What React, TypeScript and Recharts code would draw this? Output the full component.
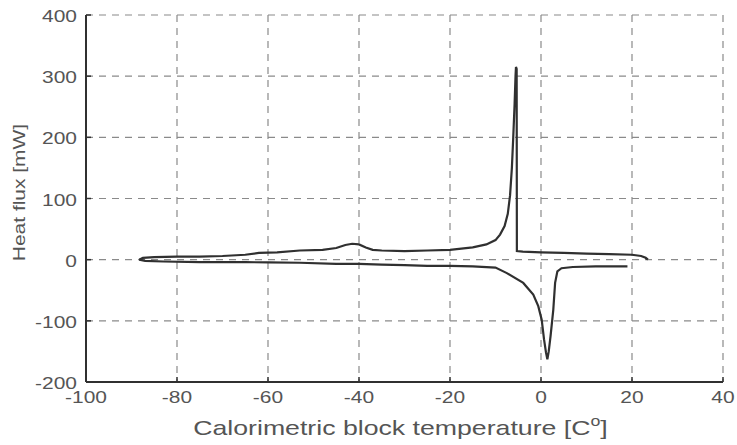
import React from 'react';
import { LineChart, Line, XAxis, YAxis, CartesianGrid } from 'recharts';

// upper trace (cooling run, freezing peak)
const coolTemp = [-88.3, -87.5, -85, -80, -75, -70, -65, -62, -58, -53, -48, -45, -43, -41.5, -40, -38.5, -37, -35, -30, -25, -20, -15, -12, -10, -9, -8, -7.3, -6.8, -6.4, -6.1, -5.8, -5.6, -5.5, -5.35, -5.3, -4, 0, 5, 10, 15, 20, 22, 23, 23.5];
const coolFlux = [0, 3, 4, 5, 5, 6, 8, 11, 12, 15, 16, 19, 24, 26, 25, 20, 16, 15, 14, 15, 16, 20, 25, 32, 41, 55, 75, 105, 150, 200, 255, 300, 315, 312, 14, 13, 12, 11, 10, 9, 8, 6, 3, 0];

// lower trace (heating run, melting peak)
const heatTemp = [-88.3, -87, -83, -75, -65, -60, -53, -45, -40, -35, -30, -25, -20, -15, -10, -7.5, -3.9, -1.7, -0.6, 0.15, 0.66, 1.1, 1.4, 1.7, 2.1, 2.7, 3.1, 3.6, 4.5, 7, 12, 19];
const heatFlux = [0, -2, -3, -4, -4, -4.5, -5, -7, -7, -8, -9, -10, -10, -11, -13, -22, -38, -57, -76, -98, -130, -152, -163, -150, -125, -82, -38, -19, -14, -12, -11, -11];

const tempTicks = [-100, -80, -60, -40, -20, 0, 20, 40];
const fluxTicks = [-200, -100, 0, 100, 200, 300, 400];

const coolData = coolTemp.map((t, i) => ({ t, q: coolFlux[i] }));
const heatData = heatTemp.map((t, i) => ({ t, q: heatFlux[i] }));

const FONT = '"Liberation Sans", Arial, Helvetica, sans-serif';
const TEXT = '#555';
const INK = '#303030';
const WIDE = 1.27; // the original lettering is wider than Arial

const XTick = ({ x, y, payload }: any) => (
  <text transform={`translate(${x},${y}) scale(${WIDE},1)`} textAnchor="middle" fontSize={16.5} fill={TEXT} fontFamily={FONT}>
    {payload.value}
  </text>
);

const YTick = ({ x, y, payload }: any) => (
  <text transform={`translate(${x},${y + 7}) scale(${WIDE},1)`} textAnchor="end" fontSize={16.5} fill={TEXT} fontFamily={FONT}>
    {payload.value}
  </text>
);

const xTitle = ({ viewBox }: any) => (
  <text
    transform={`translate(${viewBox.x + viewBox.width / 2 - 4},${viewBox.y + 53}) scale(${WIDE},1)`}
    textAnchor="middle"
    fontSize={21}
    fill={TEXT}
    fontFamily={FONT}
  >
    Calorimetric block temperature [C
    <tspan fontSize={14} dy={-9}>o</tspan>
    <tspan dy={9}>]</tspan>
  </text>
);

const yTitle = ({ viewBox }: any) => (
  <text
    transform={`translate(${viewBox.x + 25},${viewBox.y + viewBox.height / 2 - 6}) scale(1,${WIDE}) rotate(-90)`}
    textAnchor="middle"
    fontSize={16.5}
    fill={TEXT}
    fontFamily={FONT}
  >
    Heat flux [mW]
  </text>
);

const HeatFluxChart = () => (
  <div style={{ position: 'absolute', left: 0, top: 0, background: '#fff' }}>
    <LineChart width={737} height={445} margin={{ top: 15, right: 14, left: 0, bottom: 0 }}>
      <CartesianGrid stroke="#8a8a8a" strokeDasharray="7 6" strokeWidth={1.2} />
      <XAxis
        dataKey="t"
        type="number"
        domain={[-100, 40]}
        ticks={tempTicks}
        height={63}
        tickSize={-5}
        tickMargin={26}
        tick={XTick}
        axisLine={{ stroke: INK, strokeWidth: 2 }}
        tickLine={{ stroke: INK, strokeWidth: 1.5 }}
        label={xTitle}
      />
      <XAxis
        xAxisId="top"
        orientation="top"
        type="number"
        domain={[-100, 40]}
        ticks={tempTicks}
        height={0}
        tickSize={-5}
        tick={false}
        axisLine={{ stroke: INK, strokeWidth: 2 }}
        tickLine={{ stroke: INK, strokeWidth: 1.5 }}
      />
      <YAxis
        type="number"
        domain={[-200, 400]}
        ticks={fluxTicks}
        width={86}
        tickSize={-5}
        tickMargin={14}
        tick={YTick}
        axisLine={{ stroke: INK, strokeWidth: 2 }}
        tickLine={{ stroke: INK, strokeWidth: 1.5 }}
        label={yTitle}
      />
      <YAxis
        yAxisId="right"
        orientation="right"
        type="number"
        domain={[-200, 400]}
        ticks={fluxTicks}
        width={0}
        tickSize={-5}
        tick={false}
        axisLine={{ stroke: INK, strokeWidth: 2 }}
        tickLine={{ stroke: INK, strokeWidth: 1.5 }}
      />
      <Line data={coolData} dataKey="q" type="linear" stroke={INK} strokeWidth={2.2} dot={false} isAnimationActive={false} />
      <Line data={heatData} dataKey="q" type="linear" stroke={INK} strokeWidth={2.2} dot={false} isAnimationActive={false} />
    </LineChart>
  </div>
);

export default HeatFluxChart;
